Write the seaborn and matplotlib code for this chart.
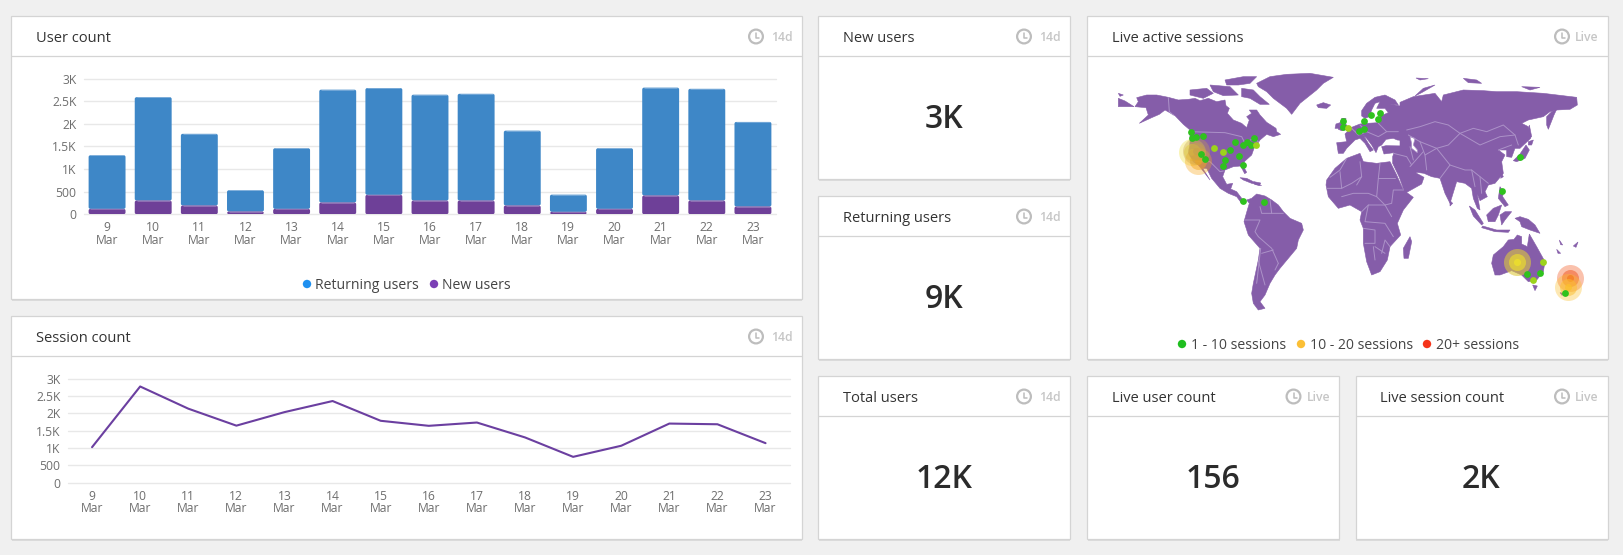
import matplotlib
matplotlib.use("Agg")
import matplotlib.pyplot as plt
from matplotlib.patches import Rectangle, Circle, Polygon, FancyBboxPatch
import seaborn as sns

sns.set_theme(style="white")
plt.rcParams['font.family'] = ['Open Sans', 'DejaVu Sans']

W, H = 1624, 555
BG = '#F0F0F0'
TXT = '#333333'
TICK = '#6E6E6E'
GRID = '#E8E8E8'
BLUE = '#3E87C7'
PURPLE = '#6E4098'
MAP = '#855DA9'
BORDER = '#AC92C8'

# ---------- data ----------
days = ['9\nMar', '10\nMar', '11\nMar', '12\nMar', '13\nMar', '14\nMar', '15\nMar', '16\nMar',
        '17\nMar', '18\nMar', '19\nMar', '20\nMar', '21\nMar', '22\nMar', '23\nMar']
new_users = [118, 302, 192, 59, 118, 258, 428, 302, 302, 192, 52, 118, 413, 302, 170]
returning_users = [1185, 2285, 1585, 470, 1340, 2495, 2360, 2340, 2360, 1655, 380, 1340, 2385, 2470, 1870]
session_count = [1019, 2770, 2130, 1640, 2030, 2350, 1780, 1635, 1730, 1300, 740, 1060, 1700, 1680, 1135]
y_ticks = [0, 500, 1000, 1500, 2000, 2500, 3000]
y_labels = ['0', '500', '1K', '1.5K', '2K', '2.5K', '3K']

kpi_titles = ['New users', 'Returning users', 'Total users', 'Live user count', 'Live session count']
kpi_values = ['3K', '9K', '12K', '156', '2K']
kpi_tags = ['14d', '14d', '14d', 'Live', 'Live']

# ---------- map outlines; each list is in its own crop frame ----------
F_NA = (1110, 65)
F_SA = (1190, 170)
F_AF = (1310, 90)
F_AS = (1400, 70)
F_OC = (1440, 180)

north_america = [(80,98),(110,90),(140,90),(175,97),(205,105),(235,103),(255,100),(270,107),(295,100),(320,110),
    (345,105),(348,122),(358,130),(352,145),(370,165),(395,175),(410,188),(418,165),(410,155),(425,145),(418,135),
    (440,135),(450,150),(470,172),(498,190),(500,200),(512,208),(490,215),(470,208),(450,225),(440,240),(432,250),
    (425,270),(405,288),(398,300),(410,322),(404,326),(392,303),(370,305),(345,315),(338,335),(350,358),(368,355),
    (362,372),(380,380),(395,400),(405,408),(395,415),(380,395),(355,385),(330,370),(305,340),(290,310),(278,310),
    (300,345),(285,325),(265,300),(250,290),(237,265),(240,230),(240,195),(220,178),(195,152),(165,135),(148,148),
    (125,158),(88,175),(115,150),(108,128),(75,125),(85,110)]
alaska_west = [(25,100),(45,108),(72,125),(50,125),(25,125)]
alaska_isle = [(25,85),(40,90),(30,94)]
greenland = [(440,55),(480,35),(530,28),(600,25),(670,37),(640,55),(620,75),(570,115),(545,148),(530,130),(490,100),(470,80),(445,65)]
ellesmere = [(345,45),(400,35),(440,35),(420,55),(385,60),(350,60)]
baffin = [(395,70),(430,75),(450,95),(478,118),(450,118),(420,100),(395,95)]
victoria = [(240,75),(290,70),(310,85),(280,100),(240,90)]
arctic_isle = [(300,60),(360,65),(385,90),(340,92),(310,80)]
iceland = [(620,120),(640,113),(662,120),(650,130),(625,128)]
cuba = [(390,338),(410,340),(430,350),(455,362),(425,355),(400,345)]
hispaniola = [(432,350),(452,354),(448,362),(434,358)]
na_group = [north_america, alaska_west, alaska_isle, greenland, ellesmere, baffin, victoria, arctic_isle, iceland, cuba, hispaniola]

south_america = [(170,90),(185,85),(200,72),(225,78),(245,90),(265,105),(280,125),(300,145),(335,160),(340,180),
    (325,210),(320,235),(295,265),(270,295),(255,315),(240,340),(225,375),(210,395),(225,415),(205,420),(190,400),
    (185,370),(190,340),(205,270),(210,235),(175,195),(162,155),(172,120),(178,100)]
sa_group = [south_america]

africa = [(50,270),(75,235),(110,205),(150,190),(160,215),(200,220),(240,215),(260,255),(280,300),(310,322),(280,360),
    (262,400),(272,435),(240,470),(232,510),(210,545),(185,555),(170,515),(160,460),(160,415),(150,390),(155,365),
    (120,345),(85,355),(55,320),(48,285)]
madagascar = [(300,440),(305,455),(295,505),(282,505),(280,475)]
great_britain = [(95,85),(108,85),(105,100),(118,115),(95,122),(85,118)]
ireland = [(78,102),(90,98),(88,115),(75,115)]
europe_west = [(85,190),(80,158),(110,155),(105,132),(125,112),(150,102),(172,100),(205,98),(212,78),(235,68),(225,55),
    (200,55),(210,35),(195,40),(185,60),(178,80),(165,85),(155,78),(155,62),(170,40),(195,22),(225,15),(255,30),(265,45),
    (240,42),(270,48),(300,30),(345,40),(400,60),(400,264),(355,250),(330,245),(305,225),(320,250),(342,262),(335,282),
    (285,310),(268,262),(248,220),(248,200),(252,188),(222,192),(215,170),(228,167),(288,168),(285,152),(262,150),(250,145),
    (228,148),(215,165),(205,170),(198,188),(185,165),(170,145),(160,135),(175,160),(190,180),(180,185),(165,160),
    (150,145),(135,150),(120,165),(110,175),(100,190)]
af_group = [africa, madagascar, great_britain, ireland, europe_west]

asia = [(0,97),(40,80),(105,70),(125,95),(130,75),(190,60),(250,62),(290,65),(350,65),(430,70),(530,82),(532,105),(510,118),
    (470,120),(450,125),(430,140),(385,150),(365,160),(385,170),(392,205),(360,235),(345,235),(335,262),(320,260),(320,240),
    (295,240),(315,255),(305,275),(310,310),(285,340),(265,345),(255,365),(262,380),(240,392),(232,372),(240,420),(232,415),
    (220,385),(215,355),(195,340),(170,335),(150,400),(135,370),(120,325),(95,320),(72,310),(0,300)]
kamchatka = [(470,118),(462,135),(445,178),(440,165),(440,140),(455,125)]
sakhalin = [(388,165),(395,200),(388,205),(385,180)]
hokkaido = [(385,215),(400,210),(395,225),(385,225)]
honshu = [(340,272),(360,252),(378,225),(388,240),(375,265),(350,275)]
taiwan = [(305,310),(310,320),(302,325)]
sri_lanka = [(150,392),(158,400),(150,408)]
svalbard = [(190,25),(230,30),(245,40),(205,38)]
novaya_zemlya = [(45,78),(70,55),(105,45),(65,68)]
arctic_east = [(365,50),(420,52),(390,60)]
arctic_north = [(48,24),(85,26),(60,30)]
as_group = [asia, kamchatka, sakhalin, hokkaido, honshu, taiwan, sri_lanka, svalbard, novaya_zemlya, arctic_east, arctic_north]

australia = [(160,225),(190,200),(205,180),(222,178),(232,165),(245,170),(245,192),(262,200),(268,162),(290,200),(315,245),
    (310,275),(290,300),(265,305),(245,285),(215,272),(180,285),(165,285),(155,250)]
tasmania = [(278,315),(292,318),(285,332)]
sumatra = [(88,78),(105,90),(130,130),(125,135),(100,108)]
java = [(128,138),(170,150),(210,150),(205,157),(165,155),(125,143)]
borneo = [(140,105),(160,85),(185,75),(175,105),(165,125),(145,125)]
sulawesi = [(180,105),(195,95),(215,95),(195,120),(185,135)]
luzon = [(180,20),(190,35),(188,50),(205,75),(195,80),(175,55)]
new_guinea = [(225,115),(240,110),(265,118),(285,135),(300,160),(270,150),(245,140),(240,125)]
melanesia_a = [(358,180),(368,195),(362,194)]
melanesia_b = [(400,198),(414,186),(408,202)]
melanesia_c = [(350,208),(362,220),(354,220)]
south_island = [(360,338),(372,340),(366,346)]
oc_group = [australia, tasmania, sumatra, java, borneo, sulawesi, luzon, new_guinea, melanesia_a, melanesia_b, melanesia_c, south_island]

caspian = [(300,140),(315,145),(310,165),(322,180),(322,188),(305,175),(305,160)]

na_borders = [[(175,98),(178,140),(190,150)],[(238,200),(345,203),(395,215),(405,235),(430,220),(445,230)],
    [(250,290),(300,290),(330,320),(340,318)]]
sa_borders = [[(205,200),(245,235),(265,280)],[(212,235),(200,340)],[(165,150),(210,150),(195,185),(205,200)],
    [(240,90),(245,130),(280,130)],[(210,110),(215,130),(245,130)],[(215,250),(250,240)],[(255,300),(265,280)],[(205,272),(225,345)]]
af_borders = [[(110,205),(90,240),(60,262)],[(150,215),(155,260),(140,285)],[(210,220),(205,265)],[(205,265),(255,265)],
    [(205,265),(200,320),(225,345)],[(90,245),(95,295),(50,295)],[(155,260),(125,280),(95,295)],
    [(95,320),(130,310),(175,310),(200,320)],[(225,345),(245,340),(250,300),(280,300)],[(155,365),(175,345),(225,345),(245,380)],
    [(175,345),(165,395),(225,400),(250,440)],[(160,415),(195,420),(195,460),(165,460)],[(190,470),(195,510)],
    [(195,470),(225,490)],[(240,470),(225,450),(215,490)],[(125,115),(145,135),(170,125),(205,140),(230,125),(265,125)],
    [(150,105),(170,125)],[(205,100),(230,125)],[(250,190),(290,200),(305,225)],[(300,170),(310,210)]]
as_borders = [[(20,180),(60,170),(105,155),(145,165),(180,190),(220,175),(260,185),(310,165),(345,195),(355,225)],
    [(180,190),(240,225),(300,200),(345,195)],[(25,195),(60,215),(110,235),(145,225),(180,190)],
    [(60,215),(75,255),(110,235)],[(75,255),(80,300)],[(110,235),(150,285),(195,300),(215,300),(240,320),(265,340)],
    [(150,285),(120,325)],[(215,300),(225,350)],[(240,320),(245,370)],[(30,290),(70,245)],[(295,240),(335,225)]]

# ---------- sessions (map position, colour from density) ----------
dots_na_x = [243,246,259,278,361,374,400,410,424,433,388,344,338,399,274,286,399,462]
dots_na_y = [201,220,217,212,254,231,241,230,241,220,274,284,302,301,268,282,408,411]
lime_na_x = [312,340,438]
lime_na_y = [248,260,239]
dots_af_x = [100,98,147,161,162,183,210,205]
dots_af_y = [92,111,122,116,94,75,70,87]
lime_af_x = [115]
lime_af_y = [115]
dots_as_x = [361,306]
dots_as_y = [260,362]
dots_oc_x = [300,260,375]
dots_oc_y = [279,282,340]
lime_oc_x = [308,278]
lime_oc_y = [247,299]

hot_x = [247, 265, 258, 232, 232, 391, 385]
hot_y = [262, 287, 258, 245, 245, 294, 320]
hot_frame = [F_NA, F_NA, F_NA, F_OC, F_OC, F_OC, F_OC]
hot_color = ['#EFE23A', '#F7A81E', '#C9A24A', '#C8A858', '#EDE12C', '#F2541B', '#FBC02D']

legend1_labels = ['Returning users', 'New users']
legend3_labels = ['1 - 10 sessions', '10 - 20 sessions', '20+ sessions']


def trace(frame, pts):
    return [(frame[0] + x / 3, frame[1] + y / 3) for x, y in pts]


def frac(x0, y0, x1, y1):
    return [x0 / W, 1 - y1 / H, (x1 - x0) / W, (y1 - y0) / H]


fig = plt.figure(figsize=(W / 100, H / 100), dpi=100, facecolor=BG)
bg = fig.add_axes([0, 0, 1, 1], zorder=0)
bg.set_xlim(0, W)
bg.set_ylim(H, 0)
bg.axis('off')
top = fig.add_axes([0, 0, 1, 1], zorder=5)
top.set_xlim(0, W)
top.set_ylim(H, 0)
top.axis('off')
top.patch.set_alpha(0)


def card(x0, y0, x1, y1, head, title, tag, value=None):
    bg.add_patch(Rectangle((x0 + 0.5, y0 + 1.5), x1 - x0, y1 - y0, fc='#DCDCDC', ec='none'))
    bg.add_patch(Rectangle((x0, y0), x1 - x0, y1 - y0, fc='white', ec='#D4D4D4', lw=0.9))
    bg.plot([x0, x1], [head, head], color='#D4D4D4', lw=0.9, solid_capstyle='butt')
    top.text(x0 + 24.5, (y0 + head) / 2 + 2.3, title, fontsize=10.5, color=TXT, va='center', ha='left', fontweight='medium')
    top.text(x1 - 9, (y0 + head) / 2 + 1.8, tag, fontsize=8.8, color='#C6C6C6', va='center', ha='right', fontweight='semibold')
    cx, cy = x1 - 46, (y0 + head) / 2 + 0.5
    top.add_patch(Circle((cx, cy), 6.9, fc='none', ec='#BDBDBD', lw=1.6))
    top.plot([cx + 0.3, cx + 0.3, cx + 3.3], [cy - 3.5, cy + 1, cy + 1], color='#BDBDBD', lw=1.1)
    if value is not None:
        top.text((x0 + x1) / 2 - 0.5, (head + y1) / 2 + 2, value, fontsize=23, color='#2B2B2B',
                 ha='center', va='center', fontweight='semibold')


card(11.5, 16, 802, 299, 56, 'User count', '14d')
card(11.5, 316, 802, 539, 356, 'Session count', '14d')
card(1087.5, 16, 1608, 359, 56, 'Live active sessions', 'Live')
card(818.5, 16, 1070, 179, 56, kpi_titles[0], kpi_tags[0], kpi_values[0])
card(818.5, 196, 1070, 359, 236, kpi_titles[1], kpi_tags[1], kpi_values[1])
card(818.5, 376, 1070, 539, 416, kpi_titles[2], kpi_tags[2], kpi_values[2])
card(1087.5, 376, 1339.5, 539, 416, kpi_titles[3], kpi_tags[3], kpi_values[3])
card(1356, 376, 1608, 539, 416, kpi_titles[4], kpi_tags[4], kpi_values[4])


def style_axes(ax):
    ax.set_facecolor('none')
    ax.set_xlim(-0.5, 14.5)
    ax.set_ylim(0, 3000)
    ax.set_yticks(y_ticks)
    ax.set_yticklabels(y_labels)
    ax.grid(False)
    for t in y_ticks:
        ax.axhline(t, color=GRID, lw=1, zorder=0, clip_on=False)
    ax.tick_params(axis='both', length=0, labelsize=8.7, labelcolor=TICK)
    ax.tick_params(axis='x', pad=5.2)
    ax.tick_params(axis='y', pad=5.5)
    for lab in ax.get_xticklabels():
        lab.set_linespacing(0.95)
    for s in ax.spines.values():
        s.set_visible(False)
    ax.set_xlabel('')
    ax.set_ylabel('')


def soften_bars(ax, highlight):
    """Give seaborn's bars the reference's slightly rounded tops and pale top edge."""
    bb = ax.get_window_extent()
    aspect = (3000 / bb.height) / (15 / bb.width)
    for patch in list(ax.patches):
        x, y, w, h = patch.get_x(), patch.get_y(), patch.get_width(), patch.get_height()
        face = patch.get_facecolor()
        patch.remove()
        ax.add_patch(FancyBboxPatch((x, y), w, h, boxstyle='round,pad=0,rounding_size=0.04',
                                    mutation_aspect=aspect, fc=face, ec='none', zorder=3))
        light = highlight[0] if matplotlib.colors.same_color(face, BLUE) else highlight[1]
        ax.plot([x + 0.04, x + w - 0.04], [y + h, y + h], color=light, lw=0.45, zorder=4, solid_capstyle='butt')


# ---------- user count bars ----------
ax1 = fig.add_axes(frac(84, 78.5, 776, 214.2), zorder=2)
sns.barplot(x=days, y=returning_users, bottom=new_users, color=BLUE, saturation=1, width=0.8, ax=ax1, zorder=3, linewidth=0)
sns.barplot(x=days, y=new_users, color=PURPLE, saturation=1, width=0.8, ax=ax1, zorder=3, linewidth=0)
style_axes(ax1)
soften_bars(ax1, ['#8FB8DF', '#A48CC4'])
ax1.set_xlim(-0.5, 14.5)
ax1.set_ylim(0, 3000)

# ---------- session count line ----------
ax2 = fig.add_axes(frac(68, 378.5, 789.6, 482.5), zorder=2)
sns.lineplot(x=days, y=session_count, color='#6B3FA0', lw=1.5, ax=ax2, zorder=3, sort=False)
style_axes(ax2)

# ---------- map ----------
amap = fig.add_axes([0, 0, 1, 1], zorder=3)
amap.set_xlim(0, W)
amap.set_ylim(H, 0)
amap.axis('off')
amap.patch.set_alpha(0)
for frame, group in [(F_NA, na_group), (F_SA, sa_group), (F_AF, af_group), (F_AS, as_group), (F_OC, oc_group)]:
    for poly in group:
        amap.add_patch(Polygon(trace(frame, poly), closed=True, fc=MAP, ec=MAP, lw=0.4, zorder=1))
amap.add_patch(Polygon(trace(F_AF, caspian), closed=True, fc='white', ec=BORDER, lw=0.5, zorder=2))
for frame, lines in [(F_NA, na_borders), (F_SA, sa_borders), (F_AF, af_borders), (F_AS, as_borders)]:
    for line in lines:
        pts = trace(frame, line)
        amap.plot([p[0] for p in pts], [p[1] for p in pts], color=BORDER, lw=0.7, zorder=2)


def area(r_px):
    return (2 * r_px * 0.72) ** 2


for f, x, y, c in zip(hot_frame, hot_x, hot_y, hot_color):
    p = trace(f, [(x, y)])[0]
    for r, a in [(13.5, 0.36), (8.5, 0.5), (3.5, 0.75)]:
        sns.scatterplot(x=[p[0]], y=[p[1]], s=area(r), color=c, alpha=a, linewidth=0, ax=amap, zorder=3, legend=False)

for f, dx, dy, lx, ly in [(F_NA, dots_na_x, dots_na_y, lime_na_x, lime_na_y), (F_AF, dots_af_x, dots_af_y, lime_af_x, lime_af_y),
                          (F_AS, dots_as_x, dots_as_y, [], []), (F_OC, dots_oc_x, dots_oc_y, lime_oc_x, lime_oc_y)]:
    p = trace(f, list(zip(dx, dy)))
    sns.scatterplot(x=[q[0] for q in p], y=[q[1] for q in p], s=area(3.4), color='#2FC21E', linewidth=0, ax=amap, zorder=4, legend=False)
    if lx:
        p = trace(f, list(zip(lx, ly)))
        sns.scatterplot(x=[q[0] for q in p], y=[q[1] for q in p], s=area(3.4), color='#9CD31C', linewidth=0, ax=amap, zorder=4, legend=False)
amap.set_xlim(0, W)
amap.set_ylim(H, 0)
amap.set_xlabel('')
amap.set_ylabel('')

# ---------- legends ----------
for x, c in zip([307, 434], ['#1E90F0', '#7B3FB5']):
    top.add_patch(Circle((x, 284), 4.2, fc=c, ec='none'))
for x, t in zip([315, 442.5], legend1_labels):
    top.text(x, 285.5, t, fontsize=10.1, color='#444444', va='center', ha='left')
for x, c in zip([1182, 1301, 1427], ['#1FBE1F', '#FBBF36', '#F5341A']):
    top.add_patch(Circle((x, 344), 4.2, fc=c, ec='none'))
for x, t in zip([1191, 1310, 1436], legend3_labels):
    top.text(x, 345.5, t, fontsize=10.1, color='#444444', va='center', ha='left')

fig.savefig('out.png', dpi=100, facecolor=BG)
